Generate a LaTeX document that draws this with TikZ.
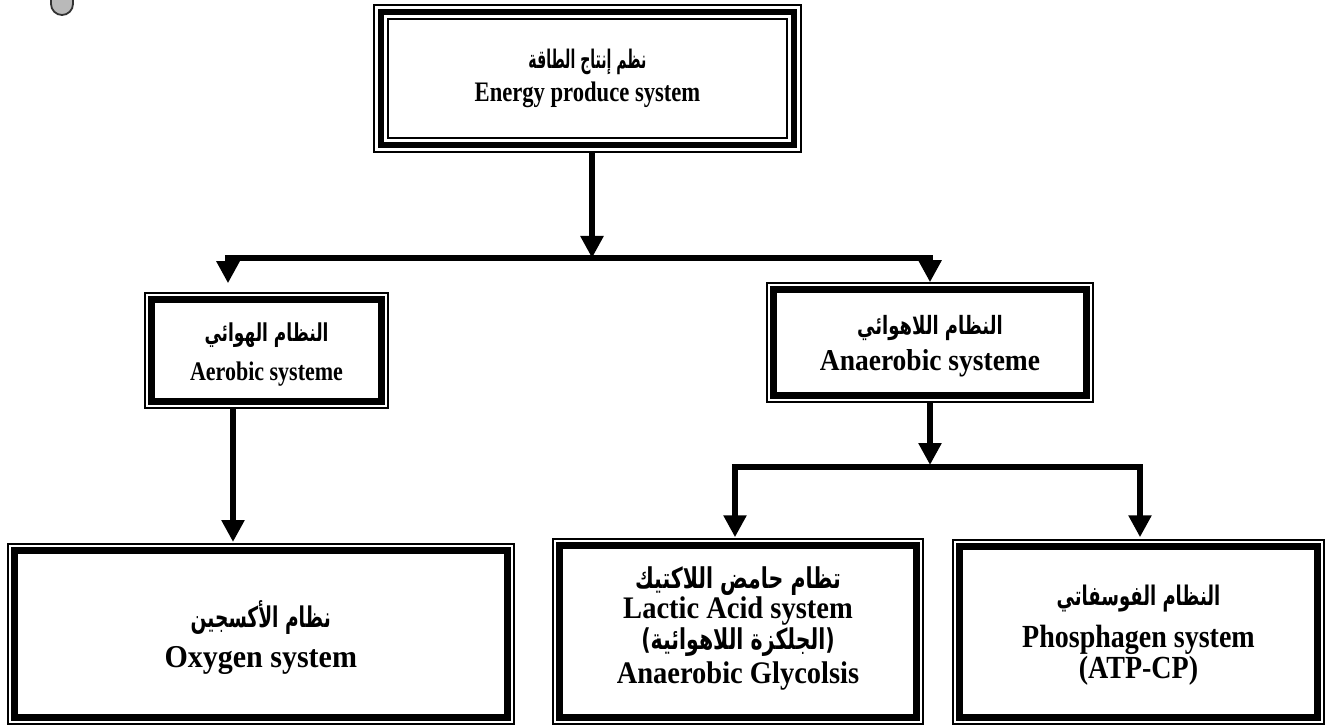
\documentclass[tikz,border=0pt]{standalone}
\usepackage{fontspec}
\usepackage{graphicx}
\setmainfont{Liberation Serif}
\newfontfamily\arabicfont[Script=Arabic]{DejaVu Sans}
\TeXXeTstate=1
\usetikzlibrary{arrows.meta}
% Arabic line: size, hscale, vscale, text
\newcommand{\arline}[4]{\smash{\scalebox{#2}[#3]{\arabicfont\bfseries\fontsize{#1}{#1}\selectfont #4}}}
% Latin line: size, vscale, text
\newcommand{\enline}[3]{\smash{\scalebox{1}[#2]{\bfseries\fontsize{#1}{#1}\selectfont #3}}}
\tikzset{
  sysbox/.style={rectangle, draw, line width=1.5pt, inner sep=0pt,
    path picture={\draw[line width=7pt]
      ([shift={(6.5pt,-6.5pt)}]path picture bounding box.north west) rectangle
      ([shift={(-6.5pt,6.5pt)}]path picture bounding box.south east);}},
  topbox/.style={rectangle, draw, line width=2pt, inner sep=0pt,
    path picture={\draw[line width=6pt]
      ([shift={(6.8pt,-6.8pt)}]path picture bounding box.north west) rectangle
      ([shift={(-6.8pt,6.8pt)}]path picture bounding box.south east);
      \draw[line width=2.2pt]
      ([shift={(13.8pt,-13.8pt)}]path picture bounding box.north west) rectangle
      ([shift={(-13.8pt,13.8pt)}]path picture bounding box.south east);}},
  txt/.style={align=center, inner sep=0pt, anchor=north},
  arr/.style={line width=6.5pt, -{Triangle[width=22pt,length=22pt]}},
  bar/.style={line width=6.5pt}
}
\begin{document}
\begin{tikzpicture}[x=1pt,y=-1pt]
\useasboundingbox (0,0) rectangle (1325,727);
% pin at top-left
\draw[fill=gray!55, draw=black!80, line width=1.8pt] (51,-3) -- (51,4) arc (180:0:11) -- (73,-3);

% boxes
\node[topbox, minimum width=427pt, minimum height=147pt] (top) at (587.5,78.5) {};
\node[sysbox, minimum width=243pt, minimum height=115pt] (aer) at (266.5,350.5) {};
\node[sysbox, minimum width=326pt, minimum height=119pt] (ana) at (930,342.5) {};
\node[sysbox, minimum width=506pt, minimum height=180pt] (oxy) at (260.75,633.75) {};
\node[sysbox, minimum width=370pt, minimum height=185pt] (lac) at (738,631.5) {};
\node[sysbox, minimum width=371pt, minimum height=184pt] (phos) at (1138.5,632) {};

% texts
\node[txt, font=\fontsize{20}{33}\selectfont] (topT) at (587.5,68)
  {\arline{16}{0.88}{1.6}{\beginR نظم إنتاج الطاقة\endR}\\ \enline{22.6}{1.25}{Energy produce system}};
\node[txt, font=\fontsize{20}{39}\selectfont] (aerT) at (266.5,341)
  {\arline{17}{1}{1.45}{\beginR النظام الهوائي\endR}\\ \enline{22}{1.22}{Aerobic systeme}};
\node[txt, font=\fontsize{20}{36}\selectfont] (anaT) at (930,334)
  {\arline{18}{1}{1.4}{\beginR النظام اللاهوائي\endR}\\ \enline{27.5}{1.1}{Anaerobic systeme}};
\node[txt, font=\fontsize{20}{40}\selectfont] (oxyT) at (260.75,627)
  {\arline{19}{0.98}{1.5}{\beginR نظام الأكسجين\endR}\\ \enline{30}{1.06}{Oxygen system}};
\node[txt, font=\fontsize{20}{30.5}\selectfont] (lacT) at (738,588)
  {\arline{20.5}{1}{1.4}{\beginR تظام حامض اللاكتيك\endR}\\ \enline{28.5}{1.1}{Lactic Acid system}\\
   \arline{20.5}{1}{1.4}{\beginR (الجلكزة اللاهوائية)\endR}\\[4pt] \enline{28.5}{1.1}{Anaerobic Glycolsis}};
\node[txt, font=\fontsize{20}{31}\selectfont] (phosT) at (1138.5,605)
  {\arline{18}{1}{1.5}{\beginR النظام الفوسفاتي\endR}\\[11pt] \enline{28}{1.15}{Phosphagen system}\\ \enline{28}{1.15}{(ATP-CP)}};

% connectors
\coordinate (bM) at (592,258);
\coordinate (bL) at (228,258);
\coordinate (bR) at (930,258);
\coordinate (aerOut) at (233,408);
\coordinate (cM) at (930,467);
\coordinate (cL) at (735,467);
\coordinate (cR) at (1140,467);

\draw[arr] (top.south -| bM) -- (bM);
\draw[bar] ([xshift=-3.25pt]bL) -- ([xshift=3.25pt]bR);
\draw[arr] (bL) -- ([yshift=9pt]aer.north -| bL);
\draw[arr] (bR) -- (ana.north);
\draw[arr] (aer.south -| aerOut) -- ([yshift=1pt]oxy.north -| aerOut);
\draw[arr] (ana.south) -- ([yshift=2pt]cM);
\draw[bar] ([xshift=-3.25pt]cL) -- ([xshift=3.25pt]cR);
\draw[arr] (cL) -- ([yshift=1pt]lac.north -| cL);
\draw[arr] (cR) -- ([yshift=2pt]phos.north -| cR);
\end{tikzpicture}
\end{document}
